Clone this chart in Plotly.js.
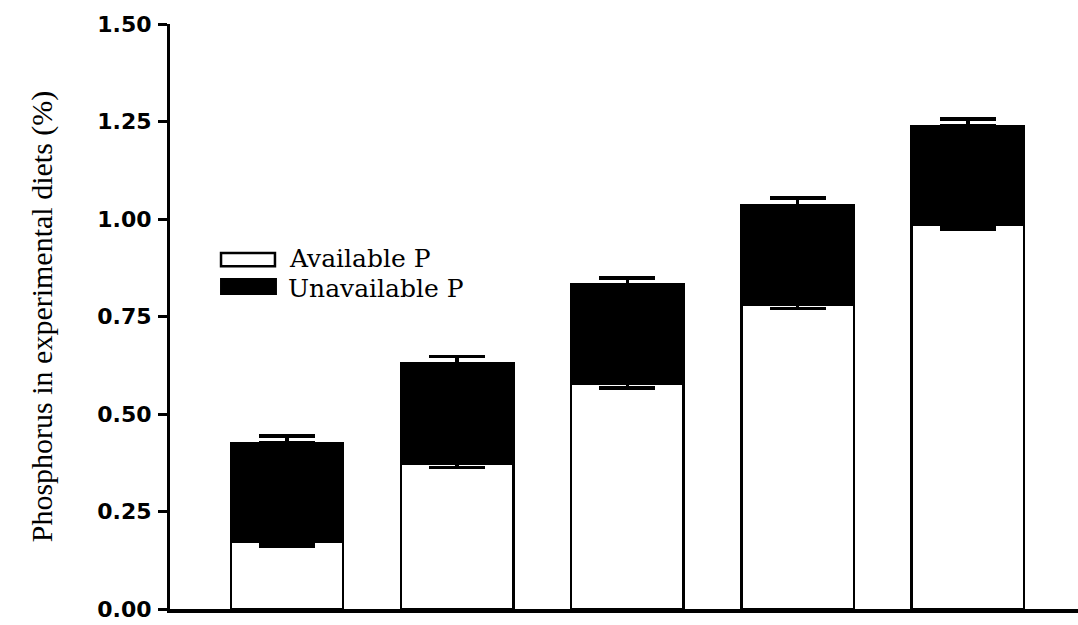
<!DOCTYPE html>
<html>
<head>
<meta charset="utf-8">
<script src="https://cdn.plot.ly/plotly-3.0.1.min.js"></script>
<style>html,body{margin:0;padding:0;background:#fff;}#chart{width:1078px;height:625px;}</style>
</head>
<body>
<div id="chart"></div>
<script>
// Data
var categories = ["Diet 1", "Diet 2", "Diet 3", "Diet 4", "Diet 5"];
var availableP = [0.172, 0.373, 0.578, 0.781, 0.985];
var availableErrMinus = [0.010, 0.010, 0.011, 0.010, 0.011];
var unavailableP = [0.254, 0.256, 0.254, 0.253, 0.254];
var totalErrPlus = [0.017, 0.019, 0.017, 0.020, 0.017];
var yTickVals = [0, 0.25, 0.5, 0.75, 1.0, 1.25, 1.5];
var yTickText = ["0.00", "0.25", "0.50", "0.75", "1.00", "1.25", "1.50"];
var legendLabels = ["Available P", "Unavailable P"];

var zeros = availableP.map(function () { return 0; });

var traces = [
  {
    type: "bar", name: legendLabels[0], x: categories, y: availableP,
    width: 0.66,
    marker: { color: "#ffffff", line: { color: "#000000", width: 2.5 } },
    error_y: { type: "data", symmetric: false, array: zeros, arrayminus: availableErrMinus,
               color: "#000000", thickness: 3.5, width: 28 },
    showlegend: false
  },
  {
    type: "bar", name: legendLabels[1], x: categories, y: unavailableP,
    width: 0.66,
    marker: { color: "#000000", line: { color: "#000000", width: 2.5 } },
    error_y: { type: "data", symmetric: false, array: totalErrPlus, arrayminus: zeros,
               color: "#000000", thickness: 3.5, width: 28 },
    showlegend: false
  }
];

var serif = "Liberation Serif, Times New Roman, serif";
var legendFont = "DejaVu Serif, serif";

var layout = {
  width: 1078, height: 625,
  margin: { l: 170, r: 0, t: 24, b: 16, pad: 0 },
  paper_bgcolor: "#ffffff", plot_bgcolor: "#ffffff",
  barmode: "stack",
  showlegend: false,
  xaxis: {
    type: "category", range: [-0.687, 4.647],
    showticklabels: false, ticks: "", showgrid: false, zeroline: false,
    showline: true, linecolor: "#000000", linewidth: 3.5, fixedrange: true
  },
  yaxis: {
    range: [0, 1.5], tickvals: yTickVals, ticktext: yTickText,
    ticks: "outside", ticklen: 9, tickwidth: 3, tickcolor: "#000000",
    ticklabelstandoff: 2,
    showgrid: false, zeroline: false,
    showline: true, linecolor: "#000000", linewidth: 3,
    tickfont: { family: "DejaVu Sans, Arial, sans-serif", size: 22, color: "#000000", weight: "bold" },
    title: { text: "Phosphorus in experimental diets (%)", standoff: 36,
             font: { family: serif, size: 30, color: "#000000" } },
    fixedrange: true
  },
  shapes: [
    { type: "rect", xref: "paper", yref: "paper", x0: 0.0562, x1: 0.1156, y0: 0.586, y1: 0.6085,
      fillcolor: "#ffffff", line: { color: "#000000", width: 2.5 } },
    { type: "rect", xref: "paper", yref: "paper", x0: 0.0562, x1: 0.1167, y0: 0.5385, y1: 0.564,
      fillcolor: "#000000", line: { color: "#000000", width: 2 } }
  ],
  annotations: [
    { xref: "paper", yref: "paper", x: 0.1289, y: 0.599, xanchor: "left", yanchor: "middle",
      text: legendLabels[0], showarrow: false, font: { family: legendFont, size: 25, color: "#000000" } },
    { xref: "paper", yref: "paper", x: 0.1278, y: 0.5487, xanchor: "left", yanchor: "middle",
      text: legendLabels[1], showarrow: false, font: { family: legendFont, size: 25, color: "#000000" } }
  ]
};

Plotly.newPlot("chart", traces, layout, { displayModeBar: false, staticPlot: true });
</script>
</body>
</html>
